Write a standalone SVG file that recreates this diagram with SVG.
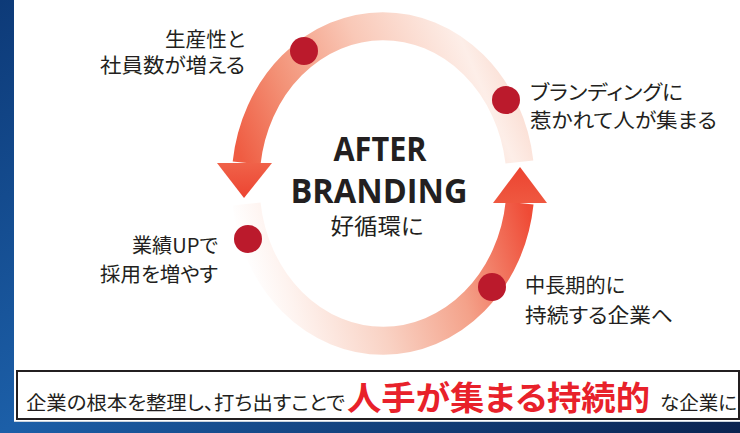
<svg xmlns="http://www.w3.org/2000/svg" width="740" height="433" viewBox="0 0 740 433">
  <defs>
    <linearGradient id="bg" x1="0" y1="0" x2="1" y2="1">
      <stop offset="0" stop-color="#0d3a78"/>
      <stop offset="0.5" stop-color="#1c5fa8"/>
      <stop offset="1" stop-color="#0a2350"/>
    </linearGradient>
    <linearGradient id="gTop" gradientUnits="userSpaceOnUse" x1="246" y1="170" x2="500" y2="60">
      <stop offset="0" stop-color="#ef5c42"/>
      <stop offset="0.25" stop-color="#f39378"/>
      <stop offset="0.55" stop-color="#f9c8b7"/>
      <stop offset="0.9" stop-color="#fdeee8"/>
      <stop offset="1" stop-color="#fbe0d6"/>
    </linearGradient>
    <linearGradient id="gBot" gradientUnits="userSpaceOnUse" x1="250" y1="280" x2="525" y2="200">
      <stop offset="0" stop-color="#ffffff"/>
      <stop offset="0.12" stop-color="#fef3ef"/>
      <stop offset="0.4" stop-color="#f9d2c4"/>
      <stop offset="0.7" stop-color="#f4a28a"/>
      <stop offset="1" stop-color="#ef4b36"/>
    </linearGradient>
    <linearGradient id="gHeadL" x1="0" y1="0" x2="0" y2="1">
      <stop offset="0" stop-color="#f06249"/>
      <stop offset="1" stop-color="#ec4431"/>
    </linearGradient>
    <linearGradient id="gHeadR" x1="0" y1="0" x2="0" y2="1">
      <stop offset="0" stop-color="#ec4431"/>
      <stop offset="1" stop-color="#ef5840"/>
    </linearGradient>
  </defs>
  <style>
    .jp { font-family: "Noto Sans CJK JP", "Noto Sans", sans-serif; fill: #231f20; font-feature-settings: "palt"; }
    .lbl { font-size: 20px; }
    .en { font-family: "Open Sans", "Liberation Sans", sans-serif; font-weight: bold; fill: #231f20; }
    .dot { fill: #bb1a2c; }
    .ring { fill: none; stroke-width: 28; }
  </style>

  <!-- background -->
  <rect x="0" y="0" width="740" height="433" fill="url(#bg)"/>
  <rect x="14" y="0" width="726" height="421" fill="#ffffff"/>
  <line x1="14" y1="421.5" x2="740" y2="421.5" stroke="#c9d3de" stroke-width="1"/>

  <!-- connectors (ring arrows) -->
  <g id="connectors">
    <path class="ring" stroke="url(#gTop)" d="M 246.6 163 A 137.5 156 0 0 1 519.4 162"/>
    <polygon fill="url(#gHeadL)" points="217,163 272,163 244,198"/>
    <path class="ring" stroke="url(#gBot)" d="M 246.6 204 A 137.5 156 0 0 0 519.6 203"/>
    <polygon fill="url(#gHeadR)" points="493,203 547,203 520,167"/>
  </g>

  <!-- center -->
  <g id="center">
    <text class="en" x="380" y="161" font-size="34" text-anchor="middle" textLength="93" lengthAdjust="spacingAndGlyphs">AFTER</text>
    <text class="en" x="379" y="203" font-size="34" text-anchor="middle" textLength="177" lengthAdjust="spacingAndGlyphs">BRANDING</text>
    <text class="jp" x="377" y="234" font-size="21.5" text-anchor="middle" textLength="93" lengthAdjust="spacingAndGlyphs">好循環に</text>
  </g>

  <g id="node-productivity">
    <circle class="dot" cx="304" cy="51" r="14"/>
    <text class="jp lbl" x="245" y="47" text-anchor="end" textLength="80" lengthAdjust="spacingAndGlyphs">生産性と</text>
    <text class="jp lbl" x="245" y="73" text-anchor="end" textLength="145" lengthAdjust="spacingAndGlyphs">社員数が増える</text>
  </g>

  <g id="node-branding">
    <circle class="dot" cx="506" cy="100" r="14"/>
    <text class="jp lbl" x="530" y="100" textLength="153" lengthAdjust="spacingAndGlyphs">ブランディングに</text>
    <text class="jp lbl" x="530" y="128" textLength="187" lengthAdjust="spacingAndGlyphs">惹かれて人が集まる</text>
  </g>

  <g id="node-sustain">
    <circle class="dot" cx="492" cy="287" r="14"/>
    <text class="jp lbl" x="525" y="293" textLength="100" lengthAdjust="spacingAndGlyphs">中長期的に</text>
    <text class="jp lbl" x="525" y="323" textLength="148" lengthAdjust="spacingAndGlyphs">持続する企業へ</text>
  </g>

  <g id="node-performance">
    <circle class="dot" cx="248" cy="239" r="14"/>
    <text class="jp lbl" x="218" y="253" text-anchor="end" textLength="86" lengthAdjust="spacingAndGlyphs">業績UPで</text>
    <text class="jp lbl" x="218" y="282" text-anchor="end" textLength="118" lengthAdjust="spacingAndGlyphs">採用を増やす</text>
  </g>

  <!-- bottom banner -->
  <g id="banner">
    <rect x="17" y="371" width="722" height="48" fill="#ffffff" stroke="#231f20" stroke-width="2"/>
    <text class="jp" x="26" y="410" font-size="19.5" textLength="319" lengthAdjust="spacingAndGlyphs">企業の根本を整理し、打ち出すことで</text>
    <text x="347" y="410" font-size="33" font-weight="bold" fill="#e8212a" font-family="Noto Sans CJK JP, sans-serif" style="font-feature-settings:'palt'" textLength="303" lengthAdjust="spacingAndGlyphs">人手が集まる持続的</text>
    <text class="jp" x="660" y="410" font-size="19" textLength="77" lengthAdjust="spacingAndGlyphs">な企業に</text>
  </g>
</svg>
